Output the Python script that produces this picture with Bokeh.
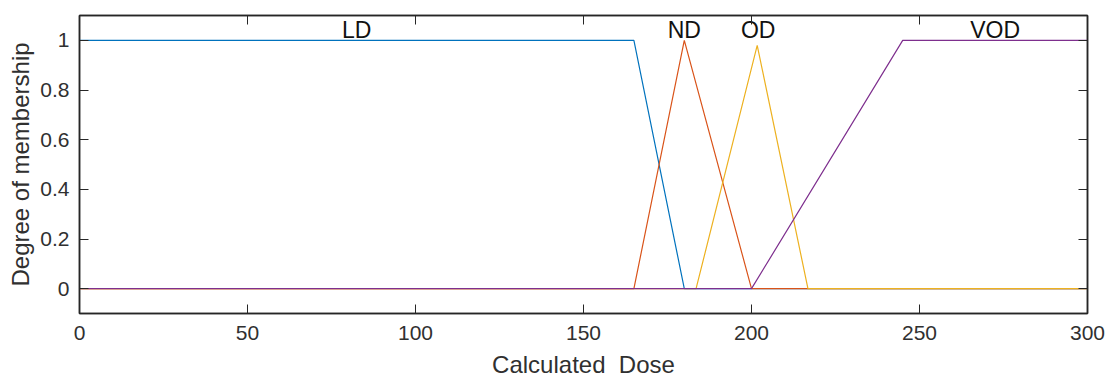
from bokeh.plotting import figure
from bokeh.models import LinearAxis, FixedTicker, CustomJSTickFormatter
from bokeh.core.properties import value
from bokeh.embed import file_html
from bokeh.resources import INLINE

# membership function vertices
ld_x = [0, 165, 180, 300]
ld_y = [1, 1, 0, 0]
nd_x = [0, 165, 180, 200, 300]
nd_y = [0, 0, 1, 0, 0]
od_x = [0, 183.5, 201.7, 216.8, 300]
od_y = [0, 0, 0.98, 0, 0]
vod_x = [0, 200, 245, 300]
vod_y = [0, 0, 1, 1]

labels = ["LD", "ND", "OD", "VOD"]
label_x = [82.5, 180, 202, 272.5]
label_y = [1, 1, 1, 1]

x_ticks = [0, 50, 100, 150, 200, 250, 300]
y_ticks = [0, 0.2, 0.4, 0.6, 0.8, 1]

FONT = "Liberation Sans"

p = figure(width=1107, height=381, x_range=(0, 300), y_range=(-0.1, 1.1),
           output_backend="svg", toolbar_location=None,
           min_border_left=79, min_border_right=20, min_border_top=15, min_border_bottom=68)
p.background_fill_color = "white"
p.border_fill_color = "white"
p.xgrid.visible = False
p.ygrid.visible = False
p.outline_line_color = "#262626"
p.outline_line_width = 1.5

colors = ["#0072BD", "#D95319", "#EDB120", "#7E2F8E"]
for xs, ys, c in [(ld_x, ld_y, colors[0]), (nd_x, nd_y, colors[1]),
                  (od_x, od_y, colors[2]), (vod_x, vod_y, colors[3])]:
    p.line(xs, ys, line_color=c, line_width=1.2)

p.text(x=label_x, y=label_y, text=labels, text_font=value(FONT), text_font_size="23px",
       text_align="center", text_baseline="bottom", text_color="#111111", y_offset=3)

def style(ax, ticks):
    ax.ticker = FixedTicker(ticks=ticks)
    ax.major_tick_in = 9
    ax.major_tick_out = 0
    ax.minor_tick_in = 0
    ax.minor_tick_out = 0
    ax.axis_line_color = "#262626"
    ax.axis_line_width = 1.5
    ax.major_tick_line_color = "#262626"
    ax.major_label_text_font = FONT
    ax.major_label_text_font_size = "21px"
    ax.major_label_text_color = "#303030"
    ax.axis_label_text_font = FONT
    ax.axis_label_text_font_size = "24px"
    ax.axis_label_text_font_style = "normal"
    ax.axis_label_text_color = "#303030"

xa = p.xaxis[0]
style(xa, x_ticks)
xa.axis_label = "Calculated\u00a0 Dose"
xa.major_label_standoff = 12
xa.axis_label_standoff = 8

ya = p.yaxis[0]
style(ya, y_ticks)
ya.axis_label = "Degree of membership"
ya.major_label_standoff = 10
ya.axis_label_standoff = 3

top = LinearAxis(formatter=CustomJSTickFormatter(code="return ''"))
style(top, x_ticks)
top.major_label_text_font_size = "0px"
p.add_layout(top, "above")
right = LinearAxis(formatter=CustomJSTickFormatter(code="return ''"))
style(right, y_ticks)
right.major_label_text_font_size = "0px"
p.add_layout(right, "right")

open("out.html", "w").write(file_html(p, INLINE))
